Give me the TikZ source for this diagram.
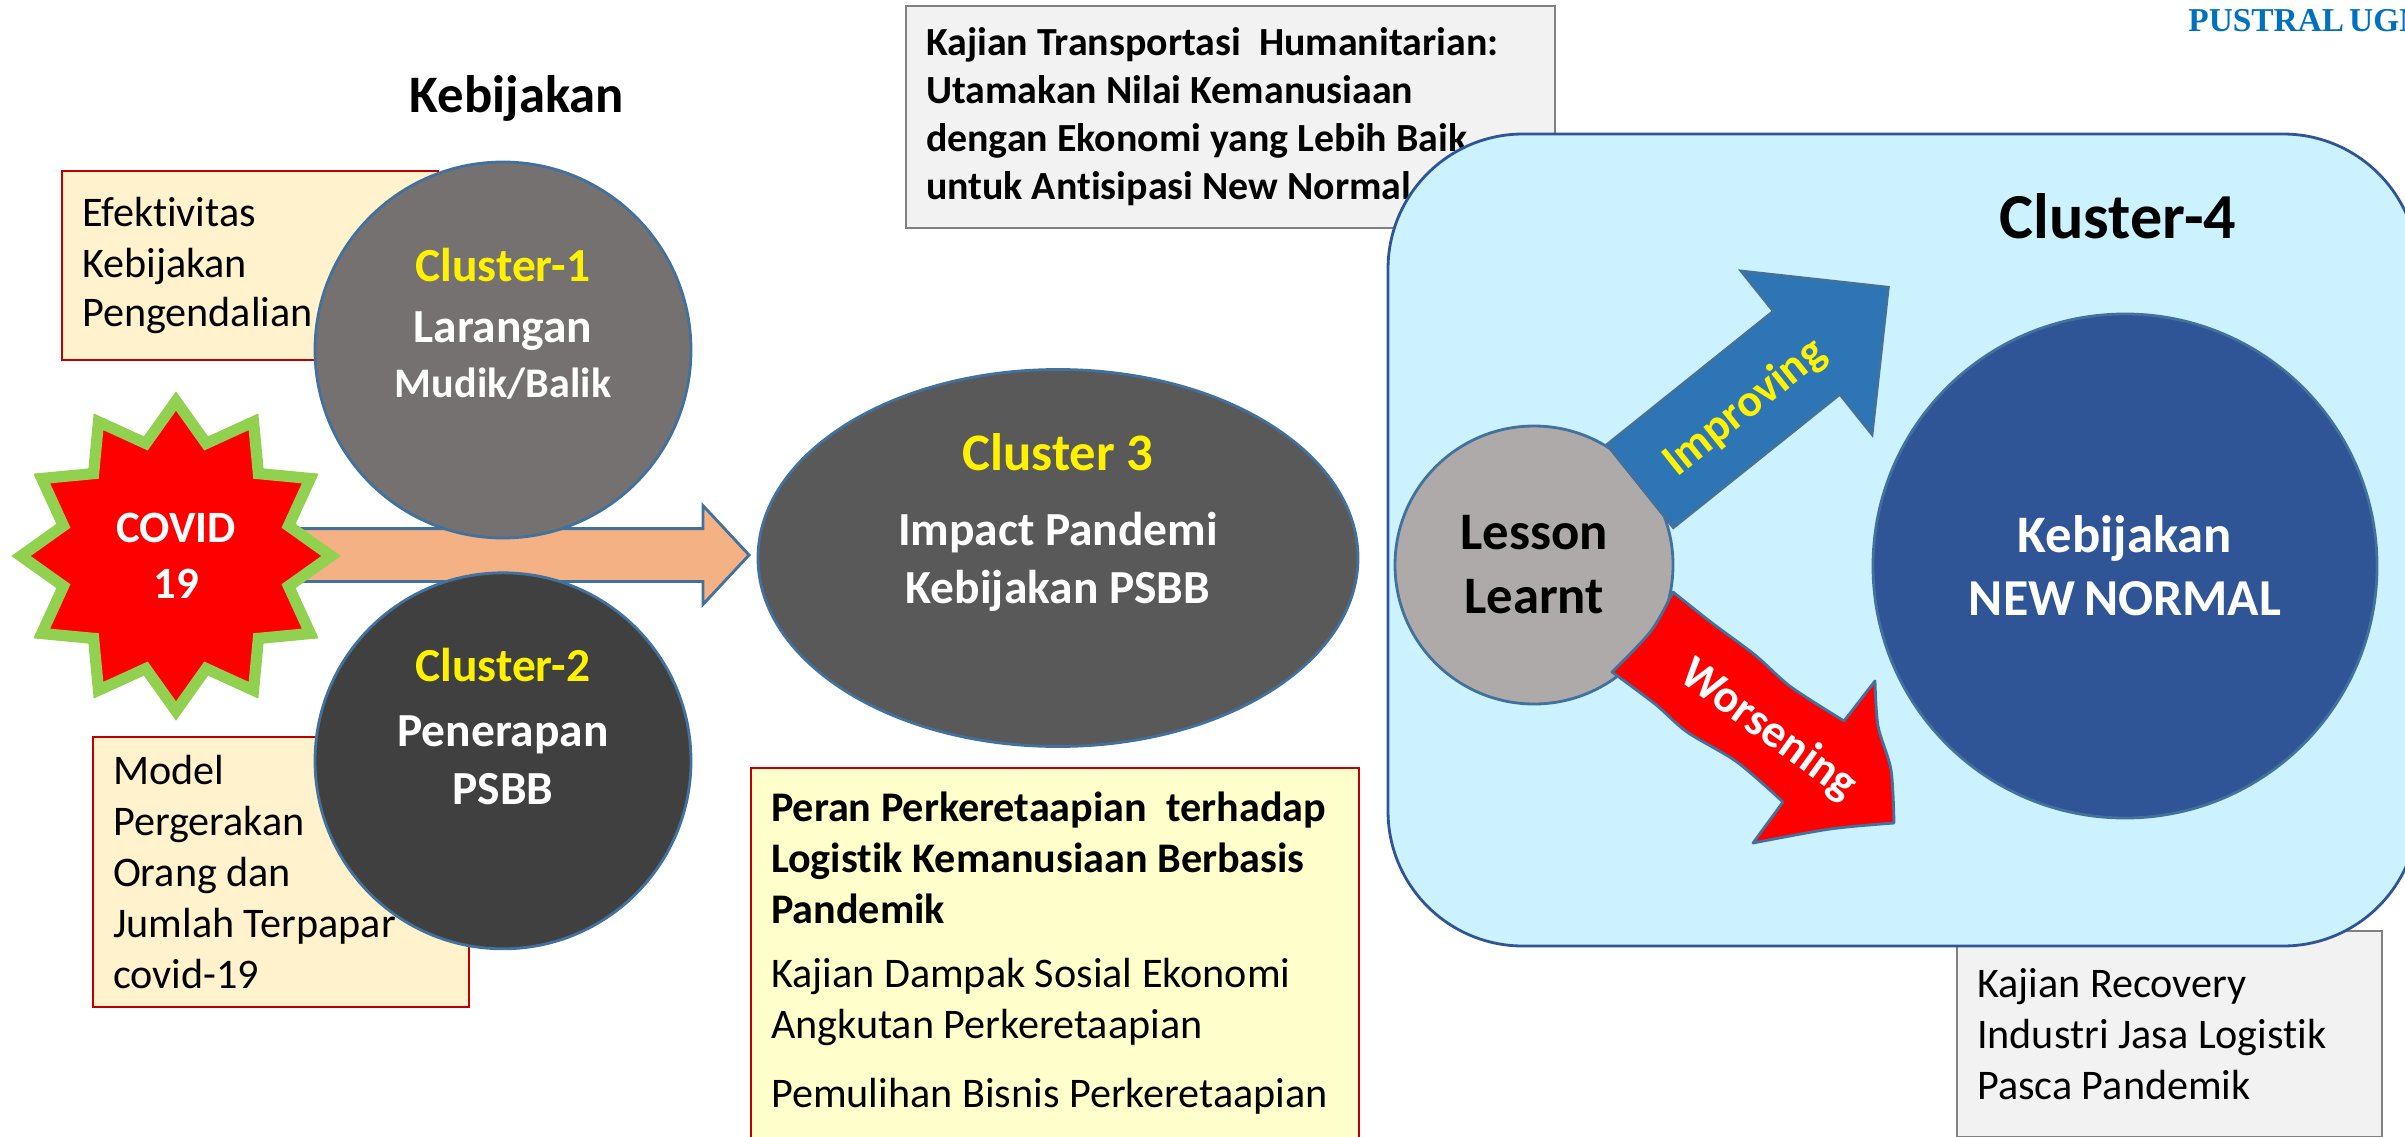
\documentclass[tikz,border=0pt]{standalone}
\usepackage{fontspec}
\setmainfont[Ligatures=NoCommon]{Carlito}
\newfontfamily\pustralfont{Liberation Serif}
\usepackage{xcolor}
\usetikzlibrary{positioning}
\usetikzlibrary{shapes.geometric}
\usetikzlibrary{shapes.arrows}

\definecolor{edgeblue}{HTML}{41719C}
\definecolor{boxred}{HTML}{C00000}
\definecolor{creamfill}{HTML}{FFF2CC}
\definecolor{paleyellow}{HTML}{FFFFCC}
\definecolor{palegray}{HTML}{F2F2F2}
\definecolor{skyfill}{HTML}{CCF1FF}
\definecolor{navyfill}{HTML}{2F5597}
\definecolor{peachfill}{HTML}{F4B183}
\definecolor{limeedge}{HTML}{92D050}
\definecolor{improvefill}{HTML}{2E75B6}
\definecolor{ugmblue}{HTML}{0070C0}
\definecolor{clusteronefill}{HTML}{767171}
\definecolor{clustertwofill}{HTML}{404040}
\definecolor{clusterthreefill}{HTML}{595959}
\definecolor{lessonfill}{HTML}{AEAAAA}

\newcommand{\fsz}[2]{\fontsize{#1}{#2}\selectfont}

\begin{document}
\begin{tikzpicture}[
      note style/.style={rectangle,anchor=north west,align=flush left,inner xsep=0.4cm,
        inner ysep=0pt,line width=1.2pt,font=\fsz{24}{29}},
      red note style/.style={note style,draw=boxred,fill=creamfill},
      gray note style/.style={note style,draw=gray,fill=palegray},
      cluster style/.style={circle,draw=edgeblue,line width=1.6pt,inner sep=0pt,
        minimum size=7.52cm},
      white text style/.style={align=center,text=white,inner sep=0pt},
      block style/.style={single arrow,draw=edgeblue,line width=1.6pt,inner xsep=0pt}
      ]
      \useasboundingbox (0,0) rectangle (48.1,-22.72);

      \node[block style,fill=peachfill,inner ysep=0.5cm,single arrow head extend=0.46cm,
        single arrow tip angle=94,minimum height=9.02cm,anchor=tip] (impactarrow) at (15.02,-11.1) {};

      \node[red note style,text width=6.72cm,minimum height=3.78cm] (efektivitas) at (1.22,-3.4)
        {Efektivitas\\Kebijakan\\[-1pt]Pengendalian\\[1pt]};
      \node[red note style,text width=6.72cm,minimum height=5.4cm] (model) at (1.84,-14.72)
        {Model\\Pergerakan\\Orang dan\\Jumlah Terpapar\\covid-19};

      \node[cluster style,fill=clusteronefill] at (10.06,-7) (clusterone) {};
      \node[white text style,font=\fsz{27}{35},above=-4.78cm of clusterone] (clusteronetext)
        {\textbf{\textcolor{yellow}{Cluster-1}}\\\textbf{Larangan}\\[-4pt]\textbf{\fsz{24}{30}Mudik/Balik}};
      \node[cluster style,fill=clustertwofill,below=0.64cm of clusterone] (clustertwo) {};
      \node[white text style,font=\fsz{27}{33},above=-4.68cm of clustertwo] (clustertwotext)
        {\textbf{\textcolor{yellow}{Cluster-2}}\\[4pt]\textbf{Penerapan}\\\textbf{PSBB}};

      \node[star,star points=12,star point ratio=1.33,draw=limeedge,fill=red,line width=6.4pt,
        minimum size=6.2cm,inner sep=0pt] (covid) at (3.52,-11.12) {};
      \node[white text style,font=\fsz{25.5}{32}\bfseries] at (covid) (covidtext) {COVID\\19};

      \node[ellipse,draw=edgeblue,fill=clusterthreefill,line width=1.6pt,inner sep=0pt,minimum width=12cm,
        minimum height=7.54cm] (clusterthree) at (21.16,-11.16) {};
      \node[white text style,font=\fsz{27}{31}\bfseries,above=-4.88cm of clusterthree] (clusterthreetext)
        {\textcolor{yellow}{\fsz{30}{42}Cluster 3}\\[12pt]Impact Pandemi\\[2pt]Kebijakan PSBB};

      \node[gray note style,font=\fsz{22.7}{27.3}\bfseries,text width=12.18cm,minimum height=4.44cm] (kajian) at (18.1,-0.1)
        {Kajian Transportasi~ Humanitarian:\\Utamakan Nilai Kemanusiaan\\dengan Ekonomi yang Lebih Baik\\untuk Antisipasi New Normal};
      \node[note style,draw=boxred,fill=paleyellow,text width=11.36cm,minimum height=7.4cm] (peran) at (15,-15.34)
        {\textbf{Peran Perkeretaapian~ terhadap}\\\textbf{Logistik Kemanusiaan Berbasis}\\\textbf{Pandemik}\\[0.26cm]
        Kajian Dampak Sosial Ekonomi\\Angkutan Perkeretaapian\\[0.36cm]Pemulihan Bisnis Perkeretaapian};
      \node[gray note style,text width=7.7cm,minimum height=4.12cm] (recovery) at (39.12,-18.6)
        {Kajian Recovery\\Industri Jasa Logistik\\Pasca Pandemik};

      \node[rectangle,rounded corners=2.7cm,draw=navyfill,fill=skyfill,line width=1.6pt,
        minimum width=20.6cm,minimum height=16.24cm] (clusterfour) at (38.06,-10.8) {};
      \node[font=\fsz{36.5}{40}\bfseries,inner sep=0pt] (clusterfourtext) at (42.36,-4.32) {Cluster-4};
      \node[font=\fsz{30}{36}\bfseries,inner sep=0pt] (kebijakan) at (10.34,-1.96) {Kebijakan};
      \node[font=\fsz{19}{24}\pustralfont\bfseries,text=ugmblue,anchor=west,inner sep=0pt] (pustral) at (43.76,-0.42) {PUSTRAL\kern0.15em UGM};

      \node[cluster style,fill=navyfill,minimum size=10.08cm] (newnormal) at (42.5,-11.32) {};
      \node[white text style,font=\fsz{30}{36}\bfseries] at (newnormal) (newnormaltext) {Kebijakan\\\fsz{29.5}{36}NEW\kern0.17em NORMAL};

      \node[cluster style,fill=lessonfill,minimum size=5.56cm,
        font=\fsz{30}{36.5}\bfseries,align=center] (lesson) at (30.68,-11.3) {\raisebox{-0.06cm}{Lesson}\\\raisebox{-0.06cm}{Learnt}};

      \node[block style,fill=improvefill,inner ysep=1.035cm,single arrow head extend=1.03cm,
        single arrow tip angle=90,minimum height=6.36cm,rotate=38.7,anchor=tail] (improving) at (32.78,-9.74) {};
      \node[font=\fsz{26}{30}\bfseries,text=yellow,rotate=38.7,inner sep=0pt] (improvingtext) at (34.9,-8.16) {Improving};

      \draw[draw=edgeblue,fill=red,line width=1.6pt,line join=round]
        plot[smooth] coordinates {(33.46,-11.84) (34.24,-12.46) (35.1,-13.1) (35.82,-13.74) (36.88,-14.42)}
        -- (37.5,-13.62)
        -- plot[smooth] coordinates {(37.5,-13.62) (37.56,-14.52) (37.82,-15.4) (37.88,-16.46)}
        -- plot[smooth] coordinates {(37.88,-16.46) (36.6,-16.58) (35.06,-16.86)}
        -- (35.66,-16.04)
        -- plot[smooth] coordinates {(35.66,-16.04) (34.74,-15.24) (33.74,-14.64) (33.1,-14.08) (32.24,-13.44)}
        -- plot[smooth] coordinates {(32.24,-13.44) (33.02,-12.62) (33.46,-11.84)} -- cycle;
      \node[font=\fsz{26.5}{30}\bfseries,text=white,rotate=-36,inner sep=0pt] (worseningtext) at (35.36,-14.6) {Worsening};

    \end{tikzpicture}
\end{document}
